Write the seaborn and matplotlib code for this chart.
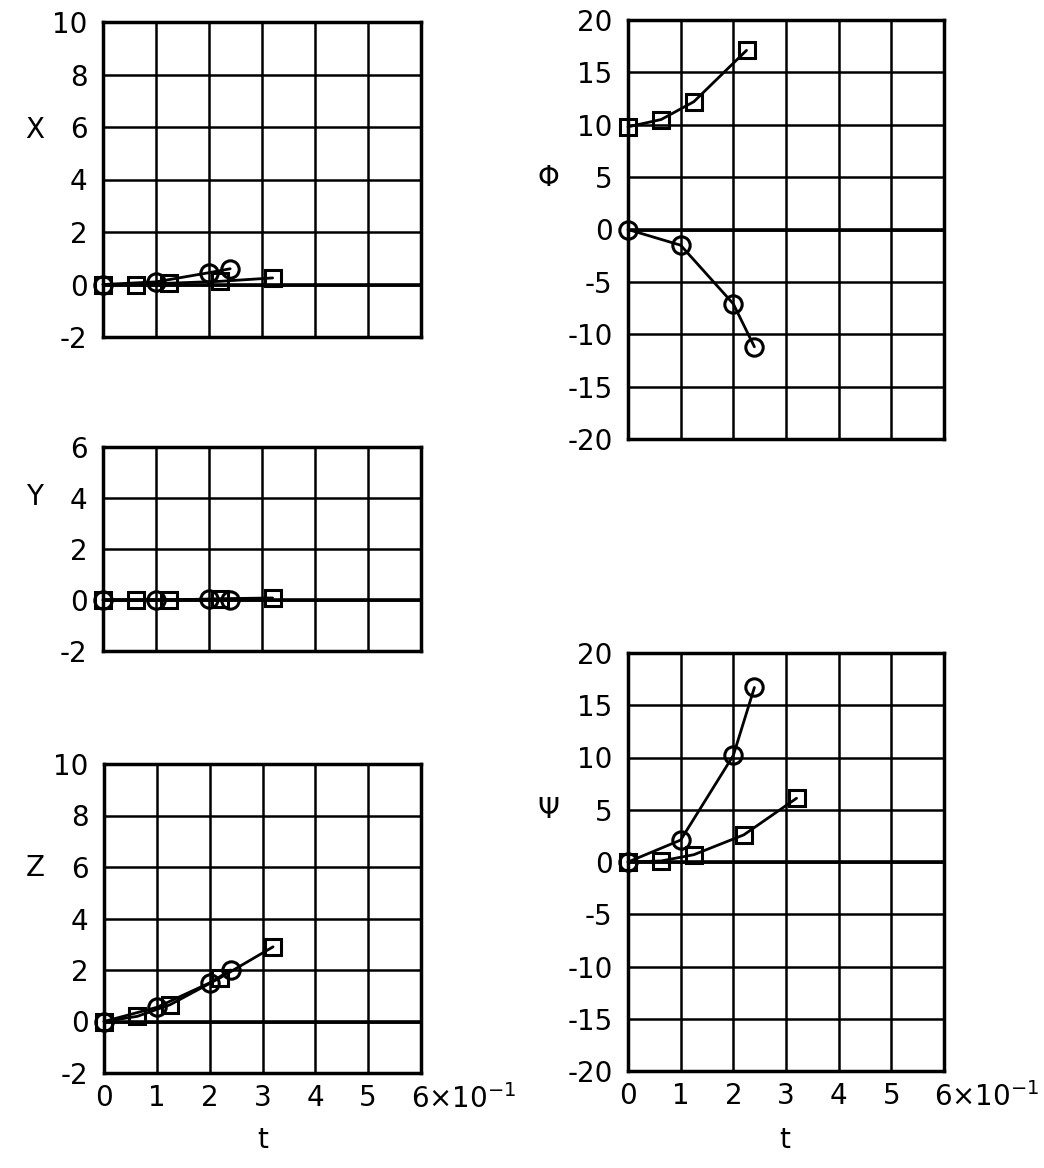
import numpy as np
import pandas as pd
import matplotlib
matplotlib.use("Agg")
import matplotlib.pyplot as plt
from matplotlib.transforms import ScaledTranslation
import seaborn as sns

# ---- data ----
t_circ = [0.0, 0.10, 0.20, 0.24]
t_sq = [0.0, 0.063, 0.125, 0.22, 0.32]

x_circ = [0.0, 0.10, 0.45, 0.60]
x_sq = [0.0, 0.0, 0.05, 0.12, 0.25]

y_circ = [0.0, 0.0, 0.02, 0.0]
y_sq = [0.0, 0.0, 0.0, 0.05, 0.08]

z_circ = [0.0, 0.55, 1.5, 2.0]
z_sq = [0.0, 0.2, 0.65, 1.7, 2.9]

phi_circ = [0.0, -1.5, -7.1, -11.2]
phi_t_sq = [0.0, 0.063, 0.125, 0.225]
phi_sq = [9.8, 10.5, 12.2, 17.1]

psi_circ = [0.0, 2.1, 10.2, 16.7]
psi_sq = [0.0, 0.1, 0.7, 2.6, 6.1]

xtick_vals = [0, 0.1, 0.2, 0.3, 0.4, 0.5, 0.6]
xtick_labels = ["0", "1", "2", "3", "4", "5", "6×10$^{-1}$"]

sns.set_style("white")
plt.rcParams["font.family"] = ["DejaVu Sans"]
plt.rcParams["axes.unicode_minus"] = False

FS = 20
fig = plt.figure(figsize=(10.44, 11.68), dpi=100)

W, H = 1044.0, 1168.0
def rect(l, t, r, b):
    return [l / W, 1 - b / H, (r - l) / W, (b - t) / H]

ax_x = fig.add_axes(rect(103, 22, 421, 337))
ax_y = fig.add_axes(rect(103, 447, 421, 651))
ax_z = fig.add_axes(rect(104, 764, 421, 1073))
ax_phi = fig.add_axes(rect(628, 20, 944, 439))
ax_psi = fig.add_axes(rect(628, 653, 944, 1071))

def draw(ax, tc, vc, ts, vs):
    dc = pd.DataFrame({"t": tc, "v": vc})
    ds = pd.DataFrame({"t": ts, "v": vs})
    sns.lineplot(data=dc, x="t", y="v", ax=ax, color="black", lw=2,
                 marker="o", markersize=12.5, markerfacecolor="none",
                 markeredgecolor="black", markeredgewidth=2.2, zorder=5, clip_on=False)
    sns.lineplot(data=ds, x="t", y="v", ax=ax, color="black", lw=2,
                 marker="s", markersize=11.5, markerfacecolor="none",
                 markeredgecolor="black", markeredgewidth=2.2, zorder=5, clip_on=False)

def style(ax, ylim, ystep, show_x):
    ax.set_xlim(0, 0.6)
    ax.set_ylim(*ylim)
    ax.set_yticks(np.arange(ylim[0], ylim[1] + 0.01, ystep))
    ax.set_yticklabels([str(int(v)) for v in np.arange(ylim[0], ylim[1] + 0.01, ystep)])
    ax.set_xticks(xtick_vals)
    ax.grid(True, color="black", lw=1.8)
    ax.axhline(0, color="black", lw=2.6, zorder=1)
    for s in ax.spines.values():
        s.set_color("black")
        s.set_linewidth(2.5)
    ax.tick_params(axis="y", length=0, labelsize=FS, pad=11, colors="black")
    ax.tick_params(axis="x", length=0, labelsize=FS, pad=8, colors="black")
    ax.set_xlabel("")
    ax.set_ylabel("")
    if show_x:
        ax.set_xticklabels(xtick_labels)
        lab = ax.get_xticklabels()[-1]
        lab.set_horizontalalignment("left")
        lab.set_transform(lab.get_transform() + ScaledTranslation(-7 / 72, 0, fig.dpi_scale_trans))
    else:
        ax.set_xticklabels([])

draw(ax_x, t_circ, x_circ, t_sq, x_sq)
draw(ax_y, t_circ, y_circ, t_sq, y_sq)
draw(ax_z, t_circ, z_circ, t_sq, z_sq)
draw(ax_phi, t_circ, phi_circ, phi_t_sq, phi_sq)
draw(ax_psi, t_circ, psi_circ, t_sq, psi_sq)

style(ax_x, (-2, 10), 2, False)
style(ax_y, (-2, 6), 2, False)
style(ax_z, (-2, 10), 2, True)
style(ax_phi, (-20, 20), 5, False)
style(ax_psi, (-20, 20), 5, True)

def ftxt(x, y, s):
    fig.text(x / W, 1 - y / H, s, fontsize=FS, ha="center", va="center", color="black")

ftxt(35, 130, "X")
ftxt(35, 497, "Y")
ftxt(35, 868, "Z")
ftxt(548, 178, "Φ")
ftxt(548, 810, "Ψ")
ftxt(263, 1140, "t")
ftxt(785, 1140, "t")

fig.savefig("out.png", dpi=100)
